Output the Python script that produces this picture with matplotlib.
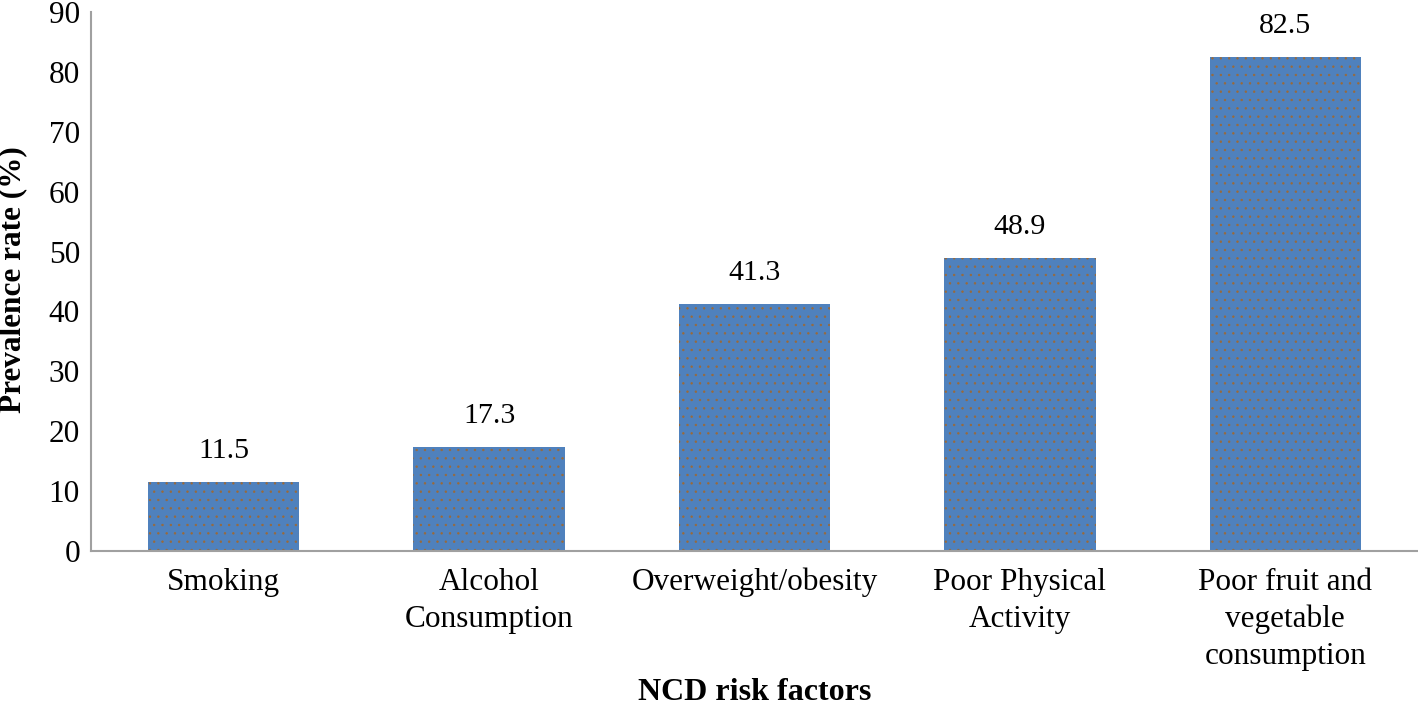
import matplotlib
matplotlib.use("Agg")
import matplotlib.pyplot as plt

categories = ["Smoking", "Alcohol\nConsumption", "Overweight/obesity",
              "Poor Physical\nActivity", "Poor fruit and\nvegetable\nconsumption"]
values = [11.5, 17.3, 41.3, 48.9, 82.5]
yticks = [0, 10, 20, 30, 40, 50, 60, 70, 80, 90]

plt.rcParams['font.family'] = ['Liberation Serif', 'DejaVu Serif']
plt.rcParams['hatch.color'] = '#9a6a3a'
plt.rcParams['hatch.linewidth'] = 0.5

fig = plt.figure(figsize=(14.18, 7.07), dpi=100)
ax = fig.add_axes([91/1418, 1-551/707, 1-91/1418, (551-12)/707])

x = list(range(len(categories)))
bars = ax.bar(x, values, width=0.57, color='#4f81bd', hatch='..', linewidth=0)

for xi, v in zip(x, values):
    ax.annotate(f"{v}", (xi, v), xytext=(0, 13), textcoords='offset points',
                ha='center', va='bottom', fontsize=21.5)

ax.set_xlim(-0.5, len(categories)-0.5)
ax.set_ylim(0, 90)
ax.set_yticks(yticks)
ax.set_yticklabels([str(t) for t in yticks], fontsize=22.5)
ax.set_xticks(x)
ax.set_xticklabels(categories, fontsize=22.5, linespacing=1.36)
ax.tick_params(axis='both', length=0)
ax.tick_params(axis='y', pad=8)
ax.tick_params(axis='x', pad=12)
for s in ['top', 'right']:
    ax.spines[s].set_visible(False)
for s in ['left', 'bottom']:
    ax.spines[s].set_color('#a0a0a0')
    ax.spines[s].set_linewidth(1.5)

ax.set_ylabel("Prevalence rate (%)", fontsize=22.5, fontweight='bold')
ax.yaxis.set_label_coords((13-91)/1327, (551-280)/539)
ax.yaxis.label.set_va('center')
ax.set_xlabel("NCD risk factors", fontsize=23, fontweight='bold')
ax.xaxis.set_label_coords(0.5, (551-693)/539)
ax.xaxis.label.set_va('center')

fig.savefig("out.png", dpi=100)
